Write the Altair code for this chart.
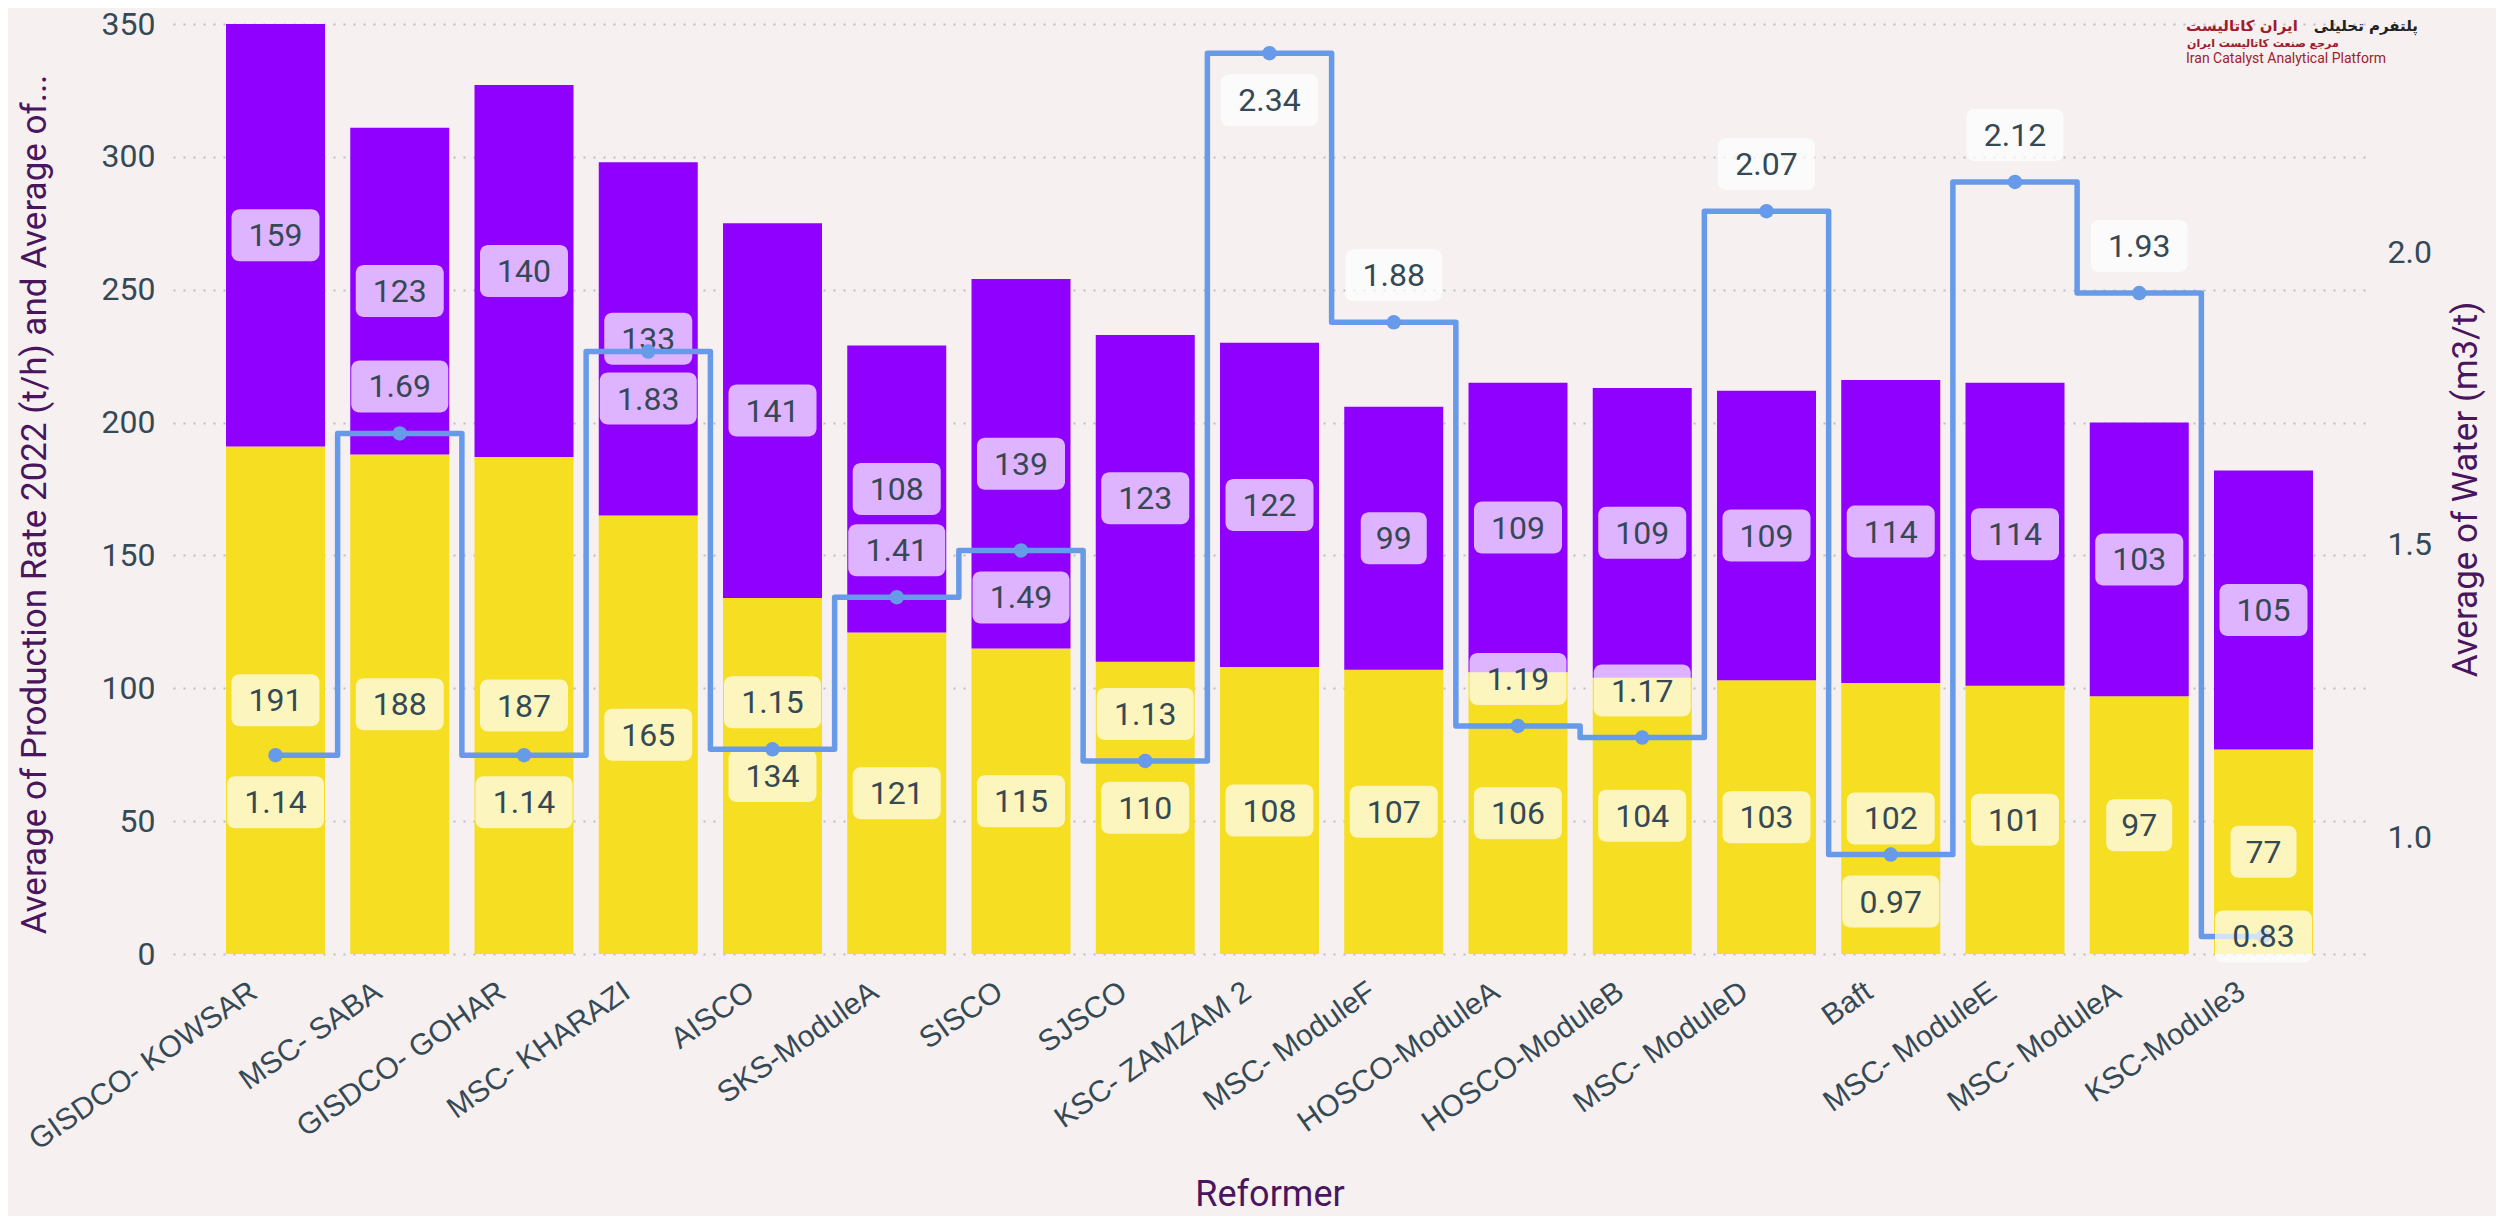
import altair as alt
import pandas as pd

# ---------------- data ----------------
reformers = [
    "GISDCO- KOWSAR", "MSC- SABA", "GISDCO- GOHAR", "MSC- KHARAZI", "AISCO",
    "SKS-ModuleA", "SISCO", "SJSCO", "KSC- ZAMZAM 2", "MSC- ModuleF",
    "HOSCO-ModuleA", "HOSCO-ModuleB", "MSC- ModuleD", "Baft", "MSC- ModuleE",
    "MSC- ModuleA", "KSC-Module3",
]
production_2022 = [191, 188, 187, 165, 134, 121, 115, 110, 108, 107, 106, 104, 103, 102, 101, 97, 77]
second_average = [159, 123, 140, 133, 141, 108, 139, 123, 122, 99, 109, 109, 109, 114, 114, 103, 105]
water = [1.14, 1.69, 1.14, 1.83, 1.15, 1.41, 1.49, 1.13, 2.34, 1.88, 1.19, 1.17, 2.07, 0.97, 2.12, 1.93, 0.83]
# where the water label sits relative to its point (-1 below, +1 above, 0 centred)
water_label_side = [-1, 1, -1, -1, 1, 1, -1, 1, -1, 1, 1, 1, 1, -1, 1, 1, 0]

series_names = ["Average of Production Rate 2022 (t/h)", "Average of second measure"]

# ---------------- layout / style ----------------
W, H = 2193, 930
LEFT_DOMAIN = [0, 350]
RIGHT_DOMAIN = [0.8, 2.39]
BOX_H = 52
LABEL_OFF = 47

YELLOW = "#F6DE22"
PURPLE = "#8F00FF"
LINE = "#679AE8"
TEXT = "#354955"
TITLE = "#4A155F"
BG = "#F6F0F0"

left_ppu = H / (LEFT_DOMAIN[1] - LEFT_DOMAIN[0])
right_ppu = H / (RIGHT_DOMAIN[1] - RIGHT_DOMAIN[0])

rows = []
for i, r in enumerate(reformers):
    rows.append({"reformer": r, "series": series_names[0], "ord": 0, "value": production_2022[i]})
    rows.append({"reformer": r, "series": series_names[1], "ord": 1, "value": second_average[i]})
bars_df = pd.DataFrame(rows)

line_df = pd.DataFrame({"reformer": reformers, "water": water, "side": water_label_side})

x_axis = alt.Axis(
    title="Reformer",
    titleFontSize=36,
    labelAngle=-35,
    labelFont="Liberation Sans",
    labelFontSize=30,
    labelColor=TEXT,
    labelPadding=22,
    labelOffset=-30,
    labelLimit=500,
    ticks=False,
    domain=False,
    titlePadding=23,
)
x_enc = alt.X(
    "reformer:N",
    sort=reformers,
    scale=alt.Scale(paddingInner=0.2, paddingOuter=0.425),
    axis=x_axis,
)

left_axis = alt.Axis(
    title="Average of Production Rate 2022 (t/h) and Average of...",
    titleFontSize=35,
    titleY=480,
    values=[0, 50, 100, 150, 200, 250, 300, 350],
    grid=True,
    gridDash=[2, 8],
    gridColor="#BDBDBD",
    gridWidth=2,
    ticks=False,
    domain=False,
    labelFontSize=32,
    labelColor=TEXT,
    labelPadding=18,
    titlePadding=49,
    titleLimit=1000,
)
right_axis = alt.Axis(
    orient="right",
    title="Average of Water (m3/t)",
    titleFontSize=35,
    values=[1.0, 1.5, 2.0],
    format=".1f",
    grid=False,
    ticks=False,
    domain=False,
    labelFontSize=32,
    labelColor=TEXT,
    labelPadding=21,
    titleAngle=270,
    titleBaseline="top",
    titlePadding=17,
)

left_scale = alt.Scale(domain=LEFT_DOMAIN, nice=False, zero=True)
right_scale = alt.Scale(domain=RIGHT_DOMAIN, nice=False, zero=False)

base_bars = (
    alt.Chart(bars_df)
    .transform_stack(stack="value", as_=["y0", "y1"], groupby=["reformer"],
                     sort=[alt.SortField("ord", order="ascending")])
    .transform_calculate(
        mid="(datum.y0 + datum.y1) / 2",
        lo=f"(datum.y0 + datum.y1) / 2 - {BOX_H / 2} / {left_ppu}",
        hi=f"(datum.y0 + datum.y1) / 2 + {BOX_H / 2} / {left_ppu}",
        lbl="format(datum.value, 'd')",
    )
)

bars = base_bars.mark_bar(width=99).encode(
    x=x_enc,
    y=alt.Y("y0:Q", scale=left_scale, axis=left_axis),
    y2="y1:Q",
    color=alt.Color("series:N", scale=alt.Scale(domain=series_names, range=[YELLOW, PURPLE]), legend=None),
)

bar_boxes_wide = base_bars.transform_filter("length(datum.lbl) >= 3").mark_bar(
    width=88, cornerRadius=8, fill="white", fillOpacity=0.7
).encode(
    x=x_enc,
    y=alt.Y("lo:Q", scale=left_scale, axis=left_axis),
    y2="hi:Q",
)
bar_boxes_narrow = base_bars.transform_filter("length(datum.lbl) < 3").mark_bar(
    width=66, cornerRadius=8, fill="white", fillOpacity=0.7
).encode(
    x=x_enc,
    y=alt.Y("lo:Q", scale=left_scale, axis=left_axis),
    y2="hi:Q",
)
bar_text = base_bars.mark_text(font="Roboto", fontSize=32, color=TEXT, baseline="middle", dy=1).encode(
    x=x_enc,
    y=alt.Y("mid:Q", scale=left_scale, axis=left_axis),
    text="lbl:N",
)

left = alt.layer(bars, bar_boxes_wide, bar_boxes_narrow, bar_text)

base_line = alt.Chart(line_df).transform_calculate(
    pos=f"datum.water + datum.side * {LABEL_OFF} / {right_ppu}",
    lo=f"datum.water + datum.side * {LABEL_OFF} / {right_ppu} - {BOX_H / 2} / {right_ppu}",
    hi=f"datum.water + datum.side * {LABEL_OFF} / {right_ppu} + {BOX_H / 2} / {right_ppu}",
    lbl="format(datum.water, '.2f')",
)

step_line = base_line.mark_line(
    interpolate="step", strokeWidth=5.5, color=LINE, strokeJoin="round", strokeCap="round"
).encode(
    x=x_enc,
    y=alt.Y("water:Q", scale=right_scale, axis=right_axis),
)
points = base_line.mark_circle(size=210, color=LINE, opacity=1).encode(
    x=x_enc,
    y=alt.Y("water:Q", scale=right_scale, axis=right_axis),
)
water_boxes = base_line.mark_bar(width=97, cornerRadius=8, fill="white", fillOpacity=0.7).encode(
    x=x_enc,
    y=alt.Y("lo:Q", scale=right_scale, axis=right_axis),
    y2="hi:Q",
)
water_text = base_line.mark_text(font="Roboto", fontSize=32, color=TEXT, baseline="middle", dy=1).encode(
    x=x_enc,
    y=alt.Y("pos:Q", scale=right_scale, axis=right_axis),
    text="lbl:N",
)

right = alt.layer(step_line, points, water_boxes, water_text)

# logo texts (top right corner)
logo_df = pd.DataFrame({"t": [0]})
logo_dark = alt.Chart(logo_df).mark_text(
    text="پلتفرم تحلیلی", font="DejaVu Sans", fontSize=15, fontWeight="bold", color="#222222", align="right",
    baseline="middle"
).encode(x=alt.value(2245), y=alt.value(2))
logo_red = alt.Chart(logo_df).mark_text(
    text="ایران کاتالیست", font="DejaVu Sans", fontSize=15, fontWeight="bold", color="#A01C2C", align="left",
    baseline="middle"
).encode(x=alt.value(2013), y=alt.value(2))
logo_sub = alt.Chart(logo_df).mark_text(
    text="مرجع صنعت کاتالیست ایران", font="DejaVu Sans", fontSize=11, fontWeight="bold", color="#A01C2C",
    align="left", baseline="middle"
).encode(x=alt.value(2014), y=alt.value(20))
logo_en = alt.Chart(logo_df).mark_text(
    text="Iran Catalyst Analytical Platform", font="Roboto", fontSize=14, color="#A01C2C",
    align="left", baseline="middle"
).encode(x=alt.value(2013), y=alt.value(35))

chart = (
    alt.layer(left, right, logo_dark, logo_red, logo_sub, logo_en)
    .resolve_scale(y="independent")
    .properties(
        width=W,
        height=H,
        autosize=alt.AutoSizeParams(type="none"),
        padding={"left": 165, "top": 16, "right": 130, "bottom": 262},
        background=BG,
    )
    .configure_view(stroke=None)
    .configure_axis(
        labelFont="Roboto",
        titleFont="Roboto",
        titleFontWeight="normal",
        titleColor=TITLE,
    )
)

chart.save("out.html", embed_options={"renderer": "svg", "actions": False})
